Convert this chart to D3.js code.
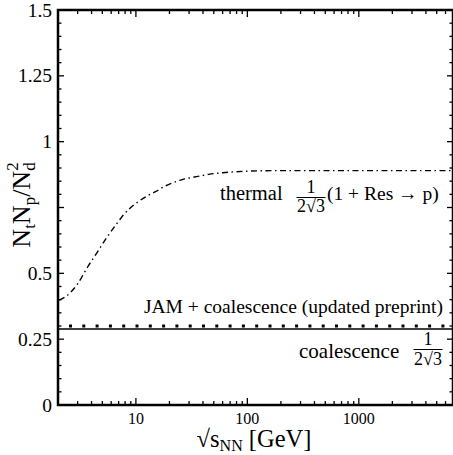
<!DOCTYPE html>
<html><head><meta charset="utf-8">
<script src="https://cdn.jsdelivr.net/npm/d3@7"></script>
<style>body{margin:0;background:#fff;font-family:"Liberation Serif"} #pre{position:absolute;visibility:hidden;font-family:"Liberation Serif";font-size:18px}</style>
</head><body>
<div id="pre">thermal √ → 0123456789</div>
<svg id="c" width="453" height="455"></svg>
<script>
const thermalX = [2.05, 2.4, 3, 3.7, 4.5, 5.3, 6.5, 7.5, 9, 10.5, 13, 15, 18, 21, 26, 30, 36, 45, 60, 80, 100, 200, 500, 1000, 3000, 7000];
const thermalY = [0.398, 0.415, 0.46, 0.525, 0.58, 0.627, 0.68, 0.715, 0.75, 0.772, 0.797, 0.81, 0.83, 0.842, 0.856, 0.862, 0.868, 0.876, 0.882, 0.886, 0.888, 0.89, 0.89, 0.89, 0.89, 0.89];
const coalescenceValue = 1/(2*Math.sqrt(3));
const jamValue = 0.300;
const xDomain = [2, 7000];
const yDomain = [0, 1.5];
const xMajor = [10, 100, 1000];
const xMinor = [2,3,4,5,6,7,8,9,20,30,40,50,60,70,80,90,200,300,400,500,600,700,800,900,2000,3000,4000,5000,6000,7000];
const yMajor = [0, 0.25, 0.5, 0.75, 1, 1.25, 1.5];
const yLabels = ["0","0.25","0.5","","1","1.25","1.5"];
const yMinor = d3.range(0, 1.5001, 0.05).map(v => +v.toFixed(2)).filter(v => Math.abs((v/0.25) - Math.round(v/0.25)) > 1e-6);

const L = 58, R = 453, T = 10, B = 405;
const FONT = "Liberation Serif";
const x = d3.scaleLog().domain(xDomain).range([L, R]);
const y = d3.scaleLinear().domain(yDomain).range([B, T]);
const svg = d3.select("#c");

function txt(px, py, size) {
  return svg.append("text").attr("x", px).attr("y", py).attr("font-size", size)
    .attr("font-family", FONT).style("font-family", "'Liberation Serif'").attr("fill", "#000");
}

function draw() {
// thermal curve
const line = d3.line().x(d => x(d[0])).y(d => y(d[1])).curve(d3.curveMonotoneX);
svg.append("path").datum(thermalX.map((v,i)=>[v, thermalY[i]]))
  .attr("d", line).attr("fill","none").attr("stroke","#000").attr("stroke-width",1.4)
  .attr("stroke-dasharray","6,3.5,1.5,3.5");

// coalescence solid line
svg.append("line").attr("x1", x(xDomain[0])).attr("x2", x(xDomain[1]))
  .attr("y1", y(coalescenceValue)).attr("y2", y(coalescenceValue))
  .attr("stroke","#000").attr("stroke-width",1.5);
// JAM dotted
svg.append("line").attr("x1", x(xDomain[0])).attr("x2", x(xDomain[1]))
  .attr("y1", y(jamValue)).attr("y2", y(jamValue))
  .attr("stroke","#000").attr("stroke-width",3).attr("stroke-dasharray","3,10.3").attr("stroke-dashoffset",-11);

// axes
const axes = svg.append("g");
function tickX(vals, len) {
  vals.forEach(v => {
    axes.append("line").attr("x1", x(v)).attr("x2", x(v)).attr("y1", B).attr("y2", B - len).attr("stroke","#000").attr("stroke-width",1.3);
    axes.append("line").attr("x1", x(v)).attr("x2", x(v)).attr("y1", T).attr("y2", T + len).attr("stroke","#000").attr("stroke-width",1.3);
  });
}
function tickY(vals, len) {
  vals.forEach(v => {
    axes.append("line").attr("x1", L).attr("x2", L + len).attr("y1", y(v)).attr("y2", y(v)).attr("stroke","#000").attr("stroke-width",1.3);
    axes.append("line").attr("x1", R).attr("x2", R - len).attr("y1", y(v)).attr("y2", y(v)).attr("stroke","#000").attr("stroke-width",1.3);
  });
}
tickX(xMajor, 7); tickX(xMinor, 4);
tickY(yMajor, 6); tickY(yMinor, 3.5);
axes.append("rect").attr("x", L).attr("y", T).attr("width", R - L).attr("height", B - T)
  .attr("fill","none").attr("stroke","#000").attr("stroke-width",2.5);

// tick labels
xMajor.forEach(d => txt(x(d), 424, 16).attr("text-anchor","middle").text(d));
yMajor.forEach((d,i) => txt(52, y(d) + 6.5, 19.5).attr("text-anchor","end").text(yLabels[i]));

// x title
const xt = txt(254, 447, 24.5).attr("text-anchor","middle");
xt.append("tspan").text("√s");
xt.append("tspan").attr("font-size",16).attr("dy",4).text("NN");
xt.append("tspan").attr("dy",-4).text(" [GeV]");

// y title
const yt = svg.append("text").attr("transform","translate(30,205) rotate(-90)")
  .attr("text-anchor","middle").attr("font-size",26).attr("font-family", FONT).style("font-family", "'Liberation Serif'");
yt.append("tspan").text("N");
yt.append("tspan").attr("font-size",17).attr("dy",5).text("t");
yt.append("tspan").attr("dy",-5).text("N");
yt.append("tspan").attr("font-size",17).attr("dy",5).text("p");
yt.append("tspan").attr("dy",-5).text("/N");
yt.append("tspan").attr("font-size",17).attr("dy",5).text("d");
yt.append("tspan").attr("font-size",17).attr("dx",-8.5).attr("dy",-17).text("2");

// fraction helper
function frac(cx, barY, numBase, denBase) {
  txt(cx, numBase, 18).attr("text-anchor","middle").text("1");
  svg.append("line").attr("x1", cx - 14.5).attr("x2", cx + 14.5).attr("y1", barY).attr("y2", barY).attr("stroke","#000").attr("stroke-width",1);
  txt(cx, denBase, 18).attr("text-anchor","middle").text("2√3");
}
// thermal label
txt(220, 200, 20.5).text("thermal");
frac(311, 197.5, 193, 212);
txt(327, 200, 19.5).text("(1 + Res → p)");
// JAM label
txt(443, 313, 19.5).attr("text-anchor","end").text("JAM + coalescence (updated preprint)");
// coalescence label
txt(299, 358, 21).text("coalescence");
frac(428, 349.5, 345, 365);
}
draw();
</script>
</body></html>
